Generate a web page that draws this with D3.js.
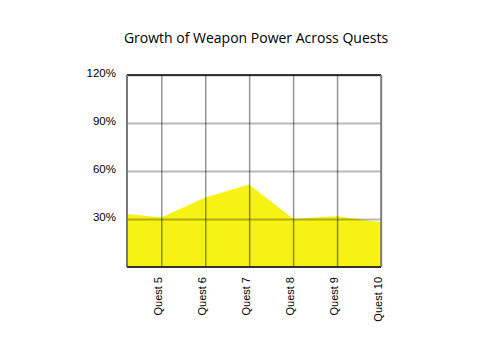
<!DOCTYPE html>
<html>
<head>
<meta charset="utf-8">
<script src="https://cdn.jsdelivr.net/npm/d3@7"></script>
<style>
  body { margin: 0; background: #fff; }
  svg { display: block; font-family: "Open Sans", sans-serif; }
</style>
</head>
<body>
<svg id="chart" width="504" height="360"></svg>
<script>
const quests = [4, 5, 6, 7, 8, 9, 10]
const questLabels = ["Quest 5", "Quest 6", "Quest 7", "Quest 8", "Quest 9", "Quest 10"]
const power = [33.8, 31, 43.5, 51.5, 30.2, 31.7, 27.9]
const yTicks = [30, 60, 90, 120]

const svg = d3.select("#chart")
const margin = { top: 75, right: 123, bottom: 93, left: 127 }
const width = 504 - margin.left - margin.right
const height = 360 - margin.top - margin.bottom

const x = d3.scaleLinear().domain([4.22, 10]).range([0, width])
const y = d3.scaleLinear().domain([0, 120]).range([height, 0])

svg.append("text")
  .attr("x", 256)
  .attr("y", 43)
  .attr("text-anchor", "middle")
  .attr("font-size", 14)
  .attr("fill", "#000")
  .text("Growth of Weapon Power Across Quests")

const g = svg.append("g").attr("transform", `translate(${margin.left},${margin.top})`)

g.append("clipPath").attr("id", "plot")
  .append("rect").attr("width", width).attr("height", height)

const area = d3.area()
  .x((d, i) => x(quests[i]))
  .y0(height)
  .y1((d) => y(d))

g.append("path")
  .datum(power)
  .attr("clip-path", "url(#plot)")
  .attr("d", area)
  .attr("fill", "#f6f213")

// horizontal grid
g.append("g")
  .call(d3.axisLeft(y).tickValues(yTicks).tickSize(-width).tickFormat((d) => d + "%"))
  .call((axis) => axis.select(".domain").remove())
  .call((axis) => axis.selectAll("line").attr("stroke", "#000").attr("stroke-opacity", 0.28).attr("stroke-width", 2))
  .call((axis) => axis.selectAll("text").attr("x", -11).attr("dy", "0.1em").attr("font-size", 11.5).attr("fill", "#000"))

// vertical grid
g.append("g")
  .attr("transform", `translate(0,${height})`)
  .call(d3.axisBottom(x).tickValues(quests.slice(1)).tickSize(-height).tickFormat((d, i) => questLabels[i]))
  .call((axis) => axis.select(".domain").remove())
  .call((axis) => axis.selectAll("line").attr("stroke", "#000").attr("stroke-opacity", 0.42).attr("stroke-width", 1.5))
  .call((axis) => axis.selectAll("text")
    .attr("transform", "rotate(-90)")
    .attr("x", -10)
    .attr("y", 0)
    .attr("dy", 0)
    .attr("text-anchor", "end")
    .attr("font-size", 11)
    .attr("fill", "#000"))

// frame
g.append("line").attr("x1", 0).attr("x2", width).attr("y1", y(120)).attr("y2", y(120))
  .attr("stroke", "#000").attr("stroke-width", 1.5)
g.append("line").attr("x1", 0).attr("x2", 0).attr("y1", y(120)).attr("y2", height)
  .attr("stroke", "#777").attr("stroke-width", 2)
g.append("line").attr("x1", width).attr("x2", width).attr("y1", y(120)).attr("y2", height)
  .attr("stroke", "#777").attr("stroke-width", 1.5)
g.append("line").attr("x1", 0).attr("x2", width).attr("y1", height).attr("y2", height)
  .attr("stroke", "#333").attr("stroke-width", 2)
</script>
</body>
</html>
